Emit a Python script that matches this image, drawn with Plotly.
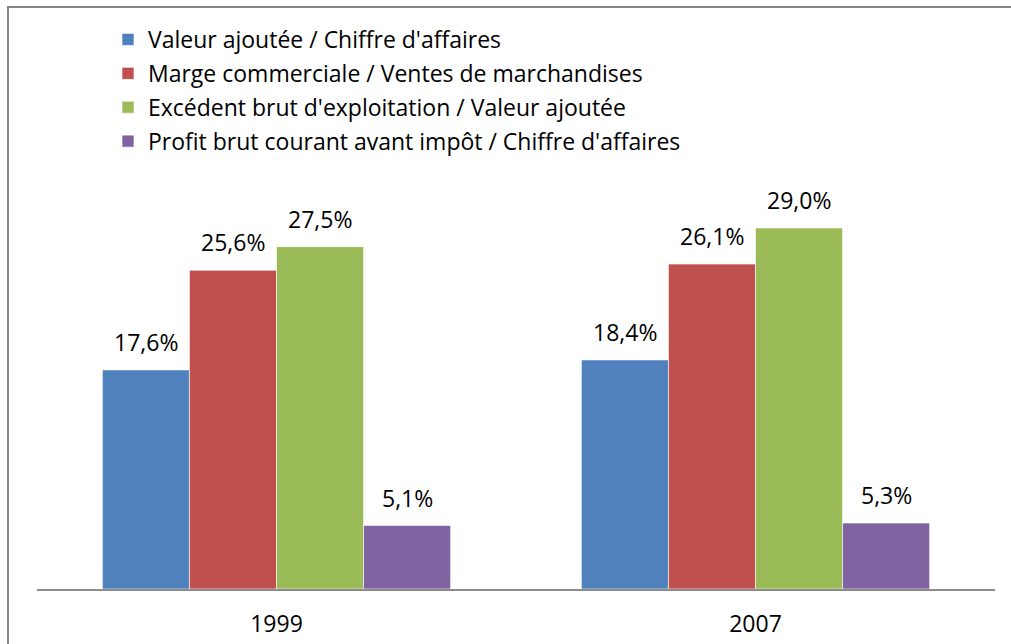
import plotly.graph_objects as go

categories = ["1999", "2007"]
series_names = [
    "Valeur ajoutée / Chiffre d'affaires",
    "Marge commerciale / Ventes de marchandises",
    "Excédent brut d'exploitation / Valeur ajoutée",
    "Profit brut courant avant impôt / Chiffre d'affaires",
]
values = [
    [17.6, 18.4],
    [25.6, 26.1],
    [27.5, 29.0],
    [5.1, 5.3],
]
colors = ["#4F81BD", "#C0504D", "#9BBB59", "#8064A2"]

FONT = "Open Sans"
FS = 23
W, H = 1011, 644
L, R, T, B = 37, 16, 4, 55
bargap = 0.273
px_per_unit = 12.45

pw = W - L - R
ph = H - T - B
ymax = ph / px_per_unit

fig = go.Figure()
for i, (name, vals, col) in enumerate(zip(series_names, values, colors)):
    fig.add_trace(go.Bar(
        x=categories, y=vals, name=name, legendgroup=f"g{i}",
        marker=dict(color=col, line=dict(color="rgba(255,255,255,0.6)", width=1)),
    ))

n = len(series_names)
bw = (1 - bargap) / n
annotations = []
for i, vals in enumerate(values):
    off = -(1 - bargap) / 2 + bw * (i + 0.5)
    for j, v in enumerate(vals):
        annotations.append(dict(
            x=j + off, y=v, xref="x", yref="y", text=f"{v:.1f}%".replace(".", ","),
            showarrow=False, yanchor="bottom", yshift=10,
            font=dict(family=FONT, size=FS, color="#000000"),
        ))

fig.update_layout(
    width=W, height=H,
    margin=dict(l=L, r=R, t=T, b=B, autoexpand=False),
    paper_bgcolor="white", plot_bgcolor="white",
    barmode="group", bargap=bargap, bargroupgap=0,
    font=dict(family=FONT, size=FS, color="#000000"),
    showlegend=True,
    legend=dict(
        x=(108 - L) / pw, y=(H - B - 18) / ph, xanchor="left", yanchor="top",
        xref="paper", yref="paper",
        font=dict(family=FONT, size=FS), itemwidth=30,
        tracegroupgap=1, bgcolor="rgba(0,0,0,0)",
    ),
    xaxis=dict(showline=True, linecolor="#8C8C8C", linewidth=2, ticks="",
               showgrid=False, tickfont=dict(family=FONT, size=FS),
               ticklabelstandoff=13, automargin=False),
    yaxis=dict(range=[0, ymax], visible=False, showgrid=False, automargin=False),
    annotations=annotations,
    shapes=[dict(type="rect", xref="paper", yref="paper",
                 x0=(8 - L) / pw, x1=1.1, y0=-0.3, y1=(H - B - 7) / ph,
                 line=dict(color="#868686", width=2), fillcolor="rgba(0,0,0,0)",
                 layer="above")],
)
fig.write_html("out.html", config={"displayModeBar": False},
               post_script="document.body.style.margin='0';document.body.style.overflow='hidden';")
